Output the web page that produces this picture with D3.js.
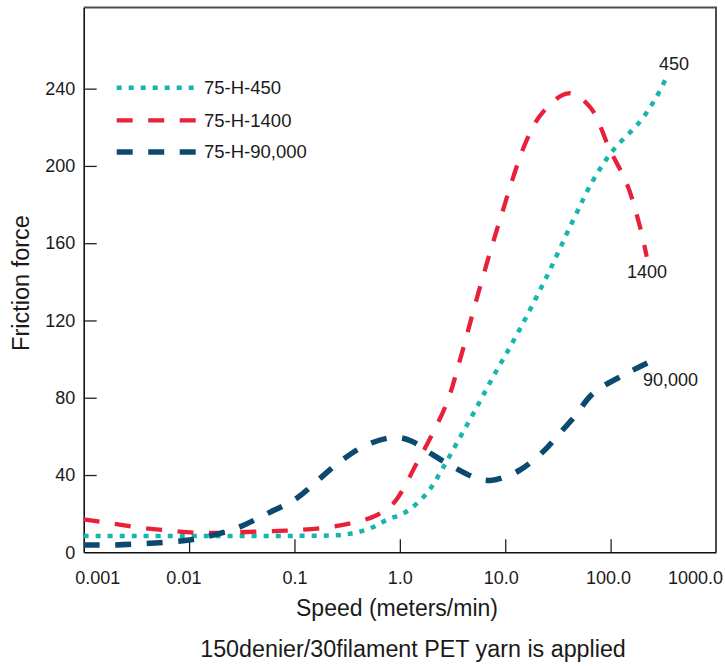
<!DOCTYPE html>
<html>
<head>
<meta charset="utf-8">
<script src="https://cdn.jsdelivr.net/npm/d3@7"></script>
<style>
  body { margin: 0; background: #fff; }
  svg { display: block; font-family: "Liberation Sans", Arial, Helvetica, sans-serif; }
</style>
</head>
<body>
<div id="chart"></div>
<script>
// series data (speed in m/min, friction force)
const speed450 = [0.001, 0.003, 0.01, 0.03, 0.1, 0.3, 0.5, 0.75, 1.15, 1.8, 2.5, 3.46, 5, 7.7, 13, 24.7, 44.2, 68.4, 106, 190, 273, 340];
const force450 = [8.4, 8.4, 8.4, 8.4, 8.5, 9.2, 12, 16.7, 21, 30.5, 42.6, 56.4, 72, 91, 113, 142.6, 172, 192.7, 208.2, 222.9, 235.8, 246];

const speed1400 = [0.001, 0.0018, 0.0035, 0.0066, 0.0118, 0.021, 0.035, 0.063, 0.105, 0.19, 0.34, 0.58, 0.87, 1.15, 1.44, 1.73, 2.78, 3.72, 5.6, 8.9, 16, 22.9, 39.6, 63.6, 98.6, 142, 190, 220];
const force1400 = [17, 15, 12.7, 11.2, 10.1, 10.1, 10.5, 11, 11.5, 12.7, 15, 18.8, 25.4, 35.7, 46, 53.8, 77.1, 99.6, 134.9, 172, 213.4, 228, 237.6, 230.6, 208.2, 191, 168.5, 153];

const speed90000 = [0.001, 0.002, 0.0043, 0.0088, 0.0147, 0.028, 0.054, 0.105, 0.175, 0.27, 0.48, 0.9, 1.3, 2.07, 3.2, 5.36, 7.2, 10, 13.8, 17, 23.8, 30.7, 45, 68.4, 142, 254];
const force90000 = [3.8, 3.8, 4.7, 6, 8.1, 12.4, 19.8, 28, 38.3, 46.9, 55.5, 59.5, 57.5, 50.4, 44.3, 38.3, 37.2, 39, 42.6, 46, 53, 59.8, 70, 82.3, 92.6, 99.5];

const seriesNames = ["75-H-450", "75-H-1400", "75-H-90,000"];
const endLabels = ["450", "1400", "90,000"];

const xTicks = [0.001, 0.01, 0.1, 1, 10, 100, 1000];
const xTickLabels = ["0.001", "0.01", "0.1", "1.0", "10.0", "100.0", "1000.0"];
const yTicks = [0, 40, 80, 120, 160, 200, 240];

const width = 725;
const height = 666;
const marginLeft = 83.7;
const marginRight = 9;
const marginTop = 7.5;
const plotBottom = 552.3;

const svg = d3.select("#chart").append("svg")
  .attr("width", width)
  .attr("height", height);

const x = d3.scaleLog()
  .domain([0.001, 1000])
  .range([marginLeft, width - marginRight]);

const y = d3.scaleLinear()
  .domain([0, 282])
  .range([plotBottom, marginTop]);

// frame (top + right in grey)
svg.append("path")
  .attr("d", `M${marginLeft},${marginTop}H${width - marginRight}V${plotBottom}`)
  .attr("fill", "none")
  .attr("stroke", "#4d4d4d")
  .attr("stroke-width", 2);

// x axis
const xNudge = [13.6, -5.7, 0, 0, -4.4, -2.7, -21];
const xAxis = svg.append("g")
  .attr("transform", `translate(0,${plotBottom})`)
  .call(d3.axisBottom(x).tickValues(xTicks)
    .tickFormat((d, i) => xTickLabels[i])
    .tickSizeInner(-13).tickSizeOuter(0).tickPadding(19));
xAxis.select(".domain").attr("stroke", "#111").attr("stroke-width", 1.6);
xAxis.selectAll(".tick line").attr("stroke", "#222").attr("stroke-width", 1.3)
  .attr("display", (d, i) => (i === 0 || i === xTicks.length - 1) ? "none" : null);
xAxis.selectAll(".tick text")
  .attr("font-size", 18)
  .attr("fill", "#1a1a1a")
  .attr("dx", (d, i) => xNudge[i]);

// y axis
const yAxis = svg.append("g")
  .attr("transform", `translate(${marginLeft},0)`)
  .call(d3.axisLeft(y).tickValues(yTicks)
    .tickSizeInner(-13).tickSizeOuter(0).tickPadding(8.5));
yAxis.select(".domain").attr("stroke", "#111").attr("stroke-width", 1.6);
yAxis.selectAll(".tick line").attr("stroke", "#222").attr("stroke-width", 1.3)
  .attr("display", d => d === 0 ? "none" : null);
yAxis.selectAll(".tick text")
  .attr("font-size", 18)
  .attr("fill", "#1a1a1a");

// axis titles and caption
svg.append("text")
  .attr("transform", "translate(29,283) rotate(-90)")
  .attr("text-anchor", "middle")
  .attr("font-size", 23.5)
  .attr("fill", "#1a1a1a")
  .text("Friction force");

svg.append("text")
  .attr("x", 397)
  .attr("y", 616)
  .attr("text-anchor", "middle")
  .attr("font-size", 23)
  .attr("fill", "#1a1a1a")
  .text("Speed (meters/min)");

svg.append("text")
  .attr("x", 413)
  .attr("y", 657)
  .attr("text-anchor", "middle")
  .attr("font-size", 23.3)
  .attr("fill", "#1a1a1a")
  .text("150denier/30filament PET yarn is applied");

// curves
const series = [
  {xs: speed450, ys: force450, color: "#18b4ae", width: 4.5, dash: "5,7"},
  {xs: speed1400, ys: force1400, color: "#e8203a", width: 4.3, dash: "16,15.5"},
  {xs: speed90000, ys: force90000, color: "#0b4a6e", width: 5.5, dash: "16,15.5"}
];

const line = d3.line()
  .x(d => x(d[0]))
  .y(d => y(d[1]))
  .curve(d3.curveCatmullRom.alpha(0.5));

series.forEach(s => {
  svg.append("path")
    .datum(s.xs.map((v, i) => [v, s.ys[i]]))
    .attr("d", line)
    .attr("fill", "none")
    .attr("stroke", s.color)
    .attr("stroke-width", s.width)
    .attr("stroke-dasharray", s.dash);
});

// end labels
const endPos = [[659, 70], [627, 278], [643, 385.5]];
endLabels.forEach((t, i) => {
  svg.append("text")
    .attr("x", endPos[i][0])
    .attr("y", endPos[i][1])
    .attr("font-size", 18)
    .attr("fill", "#1a1a1a")
    .text(t);
});

// legend
const legendY = [87.7, 120.3, 152];
const legend = svg.append("g");
series.forEach((s, i) => {
  legend.append("line")
    .attr("x1", 116.7).attr("x2", 196)
    .attr("y1", legendY[i]).attr("y2", legendY[i])
    .attr("stroke", s.color)
    .attr("stroke-width", s.width)
    .attr("stroke-dasharray", s.dash);
  legend.append("text")
    .attr("x", 204)
    .attr("y", legendY[i])
    .attr("dy", "0.35em")
    .attr("font-size", 18.5)
    .attr("fill", "#1a1a1a")
    .text(seriesNames[i]);
});
</script>
</body>
</html>
